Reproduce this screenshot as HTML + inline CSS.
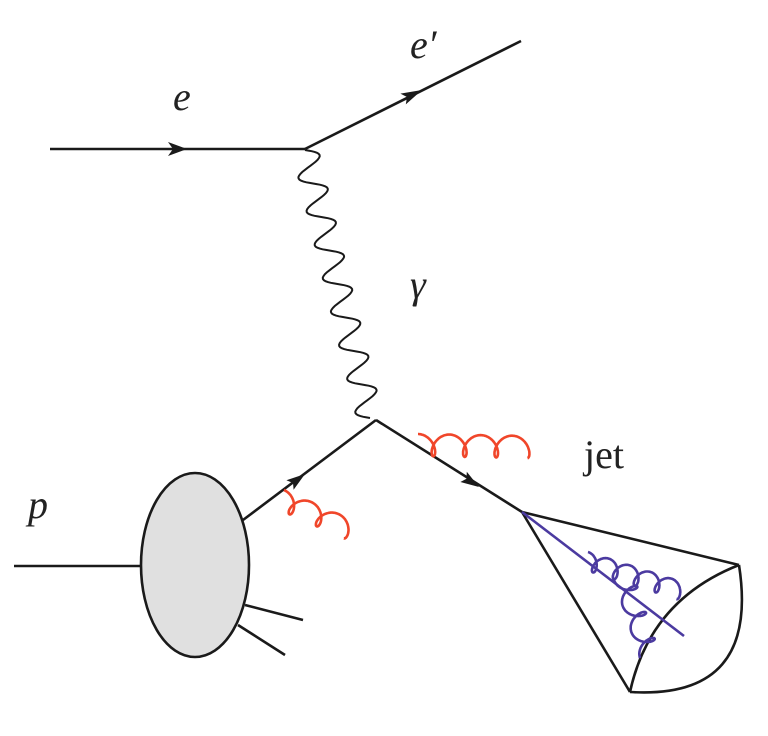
<!DOCTYPE html>
<html><head><style>body{margin:0;background:#fff}svg{display:block}text{font-family:"Liberation Serif","DejaVu Serif",serif;font-size:40px;fill:#222}</style></head>
<body>
<svg id="s" width="768" height="736" viewBox="0 0 768 736">
<g stroke="#1a1a1a" stroke-width="2.6" fill="none">
<line x1="50" y1="149" x2="305" y2="149"/>
<line x1="305" y1="149" x2="521" y2="41"/>
<line x1="14" y1="566" x2="142" y2="566"/>
<line x1="243" y1="520" x2="376" y2="420"/>
<line x1="376" y1="420" x2="522" y2="512"/>
<line x1="245" y1="605" x2="303" y2="620"/>
<line x1="238" y1="625" x2="285" y2="655"/>
<ellipse cx="195" cy="565" rx="54" ry="92" fill="#e0e0e0"/>
<line x1="522" y1="512" x2="739" y2="565"/>
<line x1="522" y1="512" x2="630" y2="692"/>
<path d="M630,692 Q650,600 739,565"/>
<path d="M630,692 Q760,700 739,565"/>
<path id="ph" stroke-width="2"/>
</g>
<g fill="#1a1a1a">
<path d="M187,149 L168,142 L173,149 L168,156Z"/>
<path d="M422,90 L400.4,93.6 L407,97 L405.8,104.4Z"/>
<path d="M305,474 L286.4,480.2 L293,483 L293.6,489.8Z"/>
<path d="M479,487 L466.8,471.8 L466.5,478.7 L460.4,482Z"/>
</g>
<line x1="522" y1="512" x2="684" y2="636" stroke="#4b3aa0" stroke-width="2.6"/>
<g id="gl" fill="none" stroke-width="2.6"></g>
<text x="173" y="110" font-style="italic">e</text>
<text x="410" y="58" font-style="italic">e′</text>
<text x="410" y="298" font-style="italic">γ</text>
<text x="28" y="518" font-style="italic">p</text>
<text x="584" y="468">jet</text>
</svg>
<script>
function wave(x1,y1,x2,y2,n,A){var dx=x2-x1,dy=y2-y1,L=Math.hypot(dx,dy),px=dy/L,py=-dx/L,d="";for(var i=0;i<=200;i++){var t=i/200,s=A*Math.sin(t*n*2*Math.PI);d+=(i?"L":"M")+(x1+dx*t+px*s).toFixed(1)+","+(y1+dy*t+py*s).toFixed(1);}return d;}
document.getElementById("ph").setAttribute("d",wave(305,150,370,418,8,13));
function gluon(x1,y1,x2,y2,n,r,R,col,flip){var dx=x2-x1,dy=y2-y1,L=Math.hypot(dx,dy),ux=dx/L,uy=dy/L,px=-uy*flip,py=ux*flip,d="";for(var i=0;i<=400;i++){var t=i/400,th=t*n*2*Math.PI;var perp=r*(1-Math.cos(th));var along=L*t+R*Math.sin(th);var x=x1+ux*along+px*perp,y=y1+uy*along+py*perp;d+=(i?"L":"M")+x.toFixed(1)+","+y.toFixed(1);}var p=document.createElementNS("http://www.w3.org/2000/svg","path");p.setAttribute("d",d);p.setAttribute("stroke",col);document.getElementById("gl").appendChild(p);}
gluon(418,434,528,436,3.5,11,8,"#f0462a",1);
gluon(284,490,352,520,2.5,10,8,"#f0462a",1);
gluon(588,552,682,582,4.5,9,6.5,"#4b3aa0",1);
gluon(614,580,640,658,3,10,7,"#4b3aa0",-1);
</script>
</body></html>
